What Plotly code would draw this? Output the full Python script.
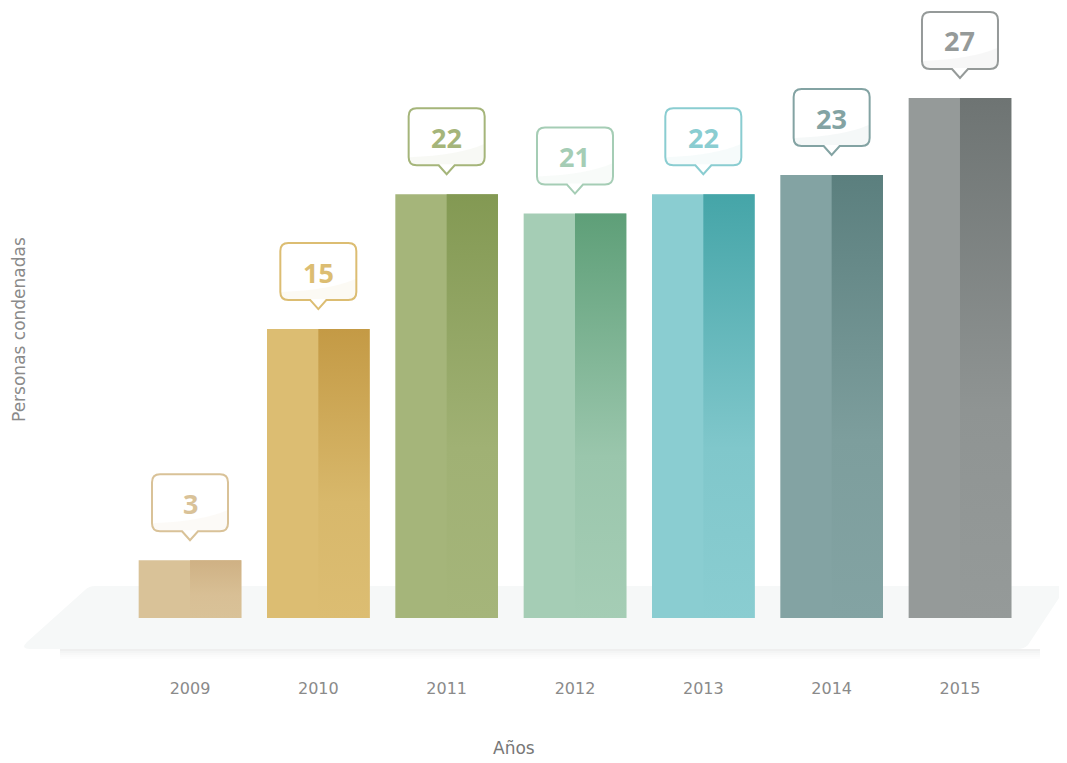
import plotly.graph_objects as go

years = ["2009", "2010", "2011", "2012", "2013", "2014", "2015"]
values = [3, 15, 22, 21, 22, 23, 27]
light_colors = ["#D9C298", "#DCBD72", "#A5B57A", "#A5CDB5", "#8ACDD1", "#83A3A3", "#959A99"]
dark_colors = ["#CFB184", "#C49A45", "#839953", "#5E9F78", "#45A5A8", "#5B7F7E", "#6E7473"]


def blend(c1, c2, t):
    a = [int(c1[k:k + 2], 16) for k in (1, 3, 5)]
    b = [int(c2[k:k + 2], 16) for k in (1, 3, 5)]
    return "#%02x%02x%02x" % tuple(round(a[j] + (b[j] - a[j]) * t) for j in range(3))


def callout_path(w=38, bottom=29, top=86, tip=20, r=8, pw=8):
    return (
        f"M {-pw},{bottom} L 0,{tip} L {pw},{bottom} L {w - r},{bottom} "
        f"Q {w},{bottom} {w},{bottom + r} L {w},{top - r} Q {w},{top} {w - r},{top} "
        f"L {-w + r},{top} Q {-w},{top} {-w},{top - r} L {-w},{bottom + r} "
        f"Q {-w},{bottom} {-w + r},{bottom} Z"
    )


def gloss_path(w=37, bottom=30, r=7):
    return (
        f"M {-w + r},{bottom} L {w - r},{bottom} Q {w},{bottom} {w},{bottom + r} "
        f"L {w},{bottom + 20} Q {w - 25},{bottom + 9} {-w},{bottom + 7} "
        f"L {-w},{bottom + r} Q {-w},{bottom} {-w + r},{bottom} Z"
    )


xs = list(range(len(years)))
fig = go.Figure()

# full bars in the light colour
fig.add_trace(go.Bar(
    x=xs, y=values, width=0.8,
    marker={"color": light_colors, "line": {"width": 0}},
    hoverinfo="skip"
))

# darker right half with a vertical gradient
for i, v in enumerate(values):
    fig.add_trace(go.Scatter(
        x=[i, i + 0.4, i + 0.4, i, i],
        y=[0, 0, v, v, 0],
        mode="lines",
        line={"width": 0},
        fill="toself",
        fillgradient={
            "type": "vertical",
            "colorscale": [
                [0, light_colors[i]],
                [0.4, blend(light_colors[i], dark_colors[i], 0.15)],
                [1, dark_colors[i]]
            ]
        },
        hoverinfo="skip"
    ))

# page body has an 8px margin, so screen pixel X,Y -> figure X-8, Y-8
FIG_W, FIG_H = 1059, 755
PLOT_BOTTOM = 665
PLOT_H = PLOT_BOTTOM - 8


def px(x):
    return (x - 8) / FIG_W


def py(y):
    return (PLOT_BOTTOM - y) / PLOT_H


shapes = []
floor = (
    f"M {px(95)},{py(586)} L {px(1067)},{py(586)} L {px(1028)},{py(645)} "
    f"Q {px(1024)},{py(649)} {px(1018)},{py(649)} "
    f"L {px(30)},{py(649)} Q {px(20)},{py(649)} {px(27)},{py(642)} "
    f"L {px(85)},{py(590)} Q {px(89)},{py(586)} {px(95)},{py(586)} Z"
)
shapes.append({
    "type": "path", "xref": "paper", "yref": "paper", "path": floor,
    "fillcolor": "#F6F8F8", "line": {"width": 0}, "layer": "below"
})
for k, op in enumerate([0.12, 0.08, 0.05, 0.03, 0.015]):
    shapes.append({
        "type": "line", "xref": "paper", "yref": "paper",
        "x0": px(60), "x1": px(1040), "y0": py(650 + k * 2), "y1": py(650 + k * 2),
        "line": {"color": "rgba(120,125,125,%s)" % op, "width": 2}, "layer": "below"
    })

annotations = []
for i, v in enumerate(values):
    shapes.append({
        "type": "path", "xref": "x", "yref": "y",
        "xsizemode": "pixel", "ysizemode": "pixel",
        "xanchor": i, "yanchor": v,
        "path": callout_path(),
        "fillcolor": "white",
        "line": {"color": light_colors[i], "width": 2}
    })
    shapes.append({
        "type": "path", "xref": "x", "yref": "y",
        "xsizemode": "pixel", "ysizemode": "pixel",
        "xanchor": i, "yanchor": v,
        "path": gloss_path(),
        "fillcolor": light_colors[i], "opacity": 0.08,
        "line": {"width": 0}
    })
    annotations.append({
        "x": i, "y": v, "xref": "x", "yref": "y",
        "text": "<b>%d</b>" % v, "showarrow": False,
        "yshift": 57,
        "font": {"family": "Open Sans", "size": 27, "color": light_colors[i]}
    })

annotations.append({
    "x": px(514), "y": py(748), "xref": "paper", "yref": "paper",
    "xanchor": "center", "yanchor": "middle",
    "text": "Años", "showarrow": False,
    "font": {"family": "DejaVu Sans", "size": 17, "color": "#777777"}
})
annotations.append({
    "x": px(19), "y": py(330), "xref": "paper", "yref": "paper",
    "xanchor": "center", "yanchor": "middle",
    "text": "Personas condenadas", "showarrow": False, "textangle": -90,
    "font": {"family": "DejaVu Sans", "size": 17, "color": "#8a8a8a"}
})

fig.update_layout(
    width=FIG_W, height=FIG_H,
    margin={"l": 0, "r": 0, "t": 0, "b": FIG_H - PLOT_H},
    plot_bgcolor="white", paper_bgcolor="white",
    showlegend=False,
    shapes=shapes,
    annotations=annotations,
    xaxis={
        "range": [-182 / 128.33, -182 / 128.33 + FIG_W / 128.33],
        "tickvals": xs, "ticktext": years,
        "showgrid": False, "zeroline": False, "showline": False,
        "ticks": "", "ticklabelstandoff": 12,
        "tickfont": {"family": "DejaVu Sans", "size": 16, "color": "#8a8a8a"},
        "fixedrange": True
    },
    yaxis={
        "visible": False,
        "range": [-(PLOT_BOTTOM - 618) / 19.26, (618 - 8) / 19.26],
        "fixedrange": True
    }
)

fig.write_html("out.html")
